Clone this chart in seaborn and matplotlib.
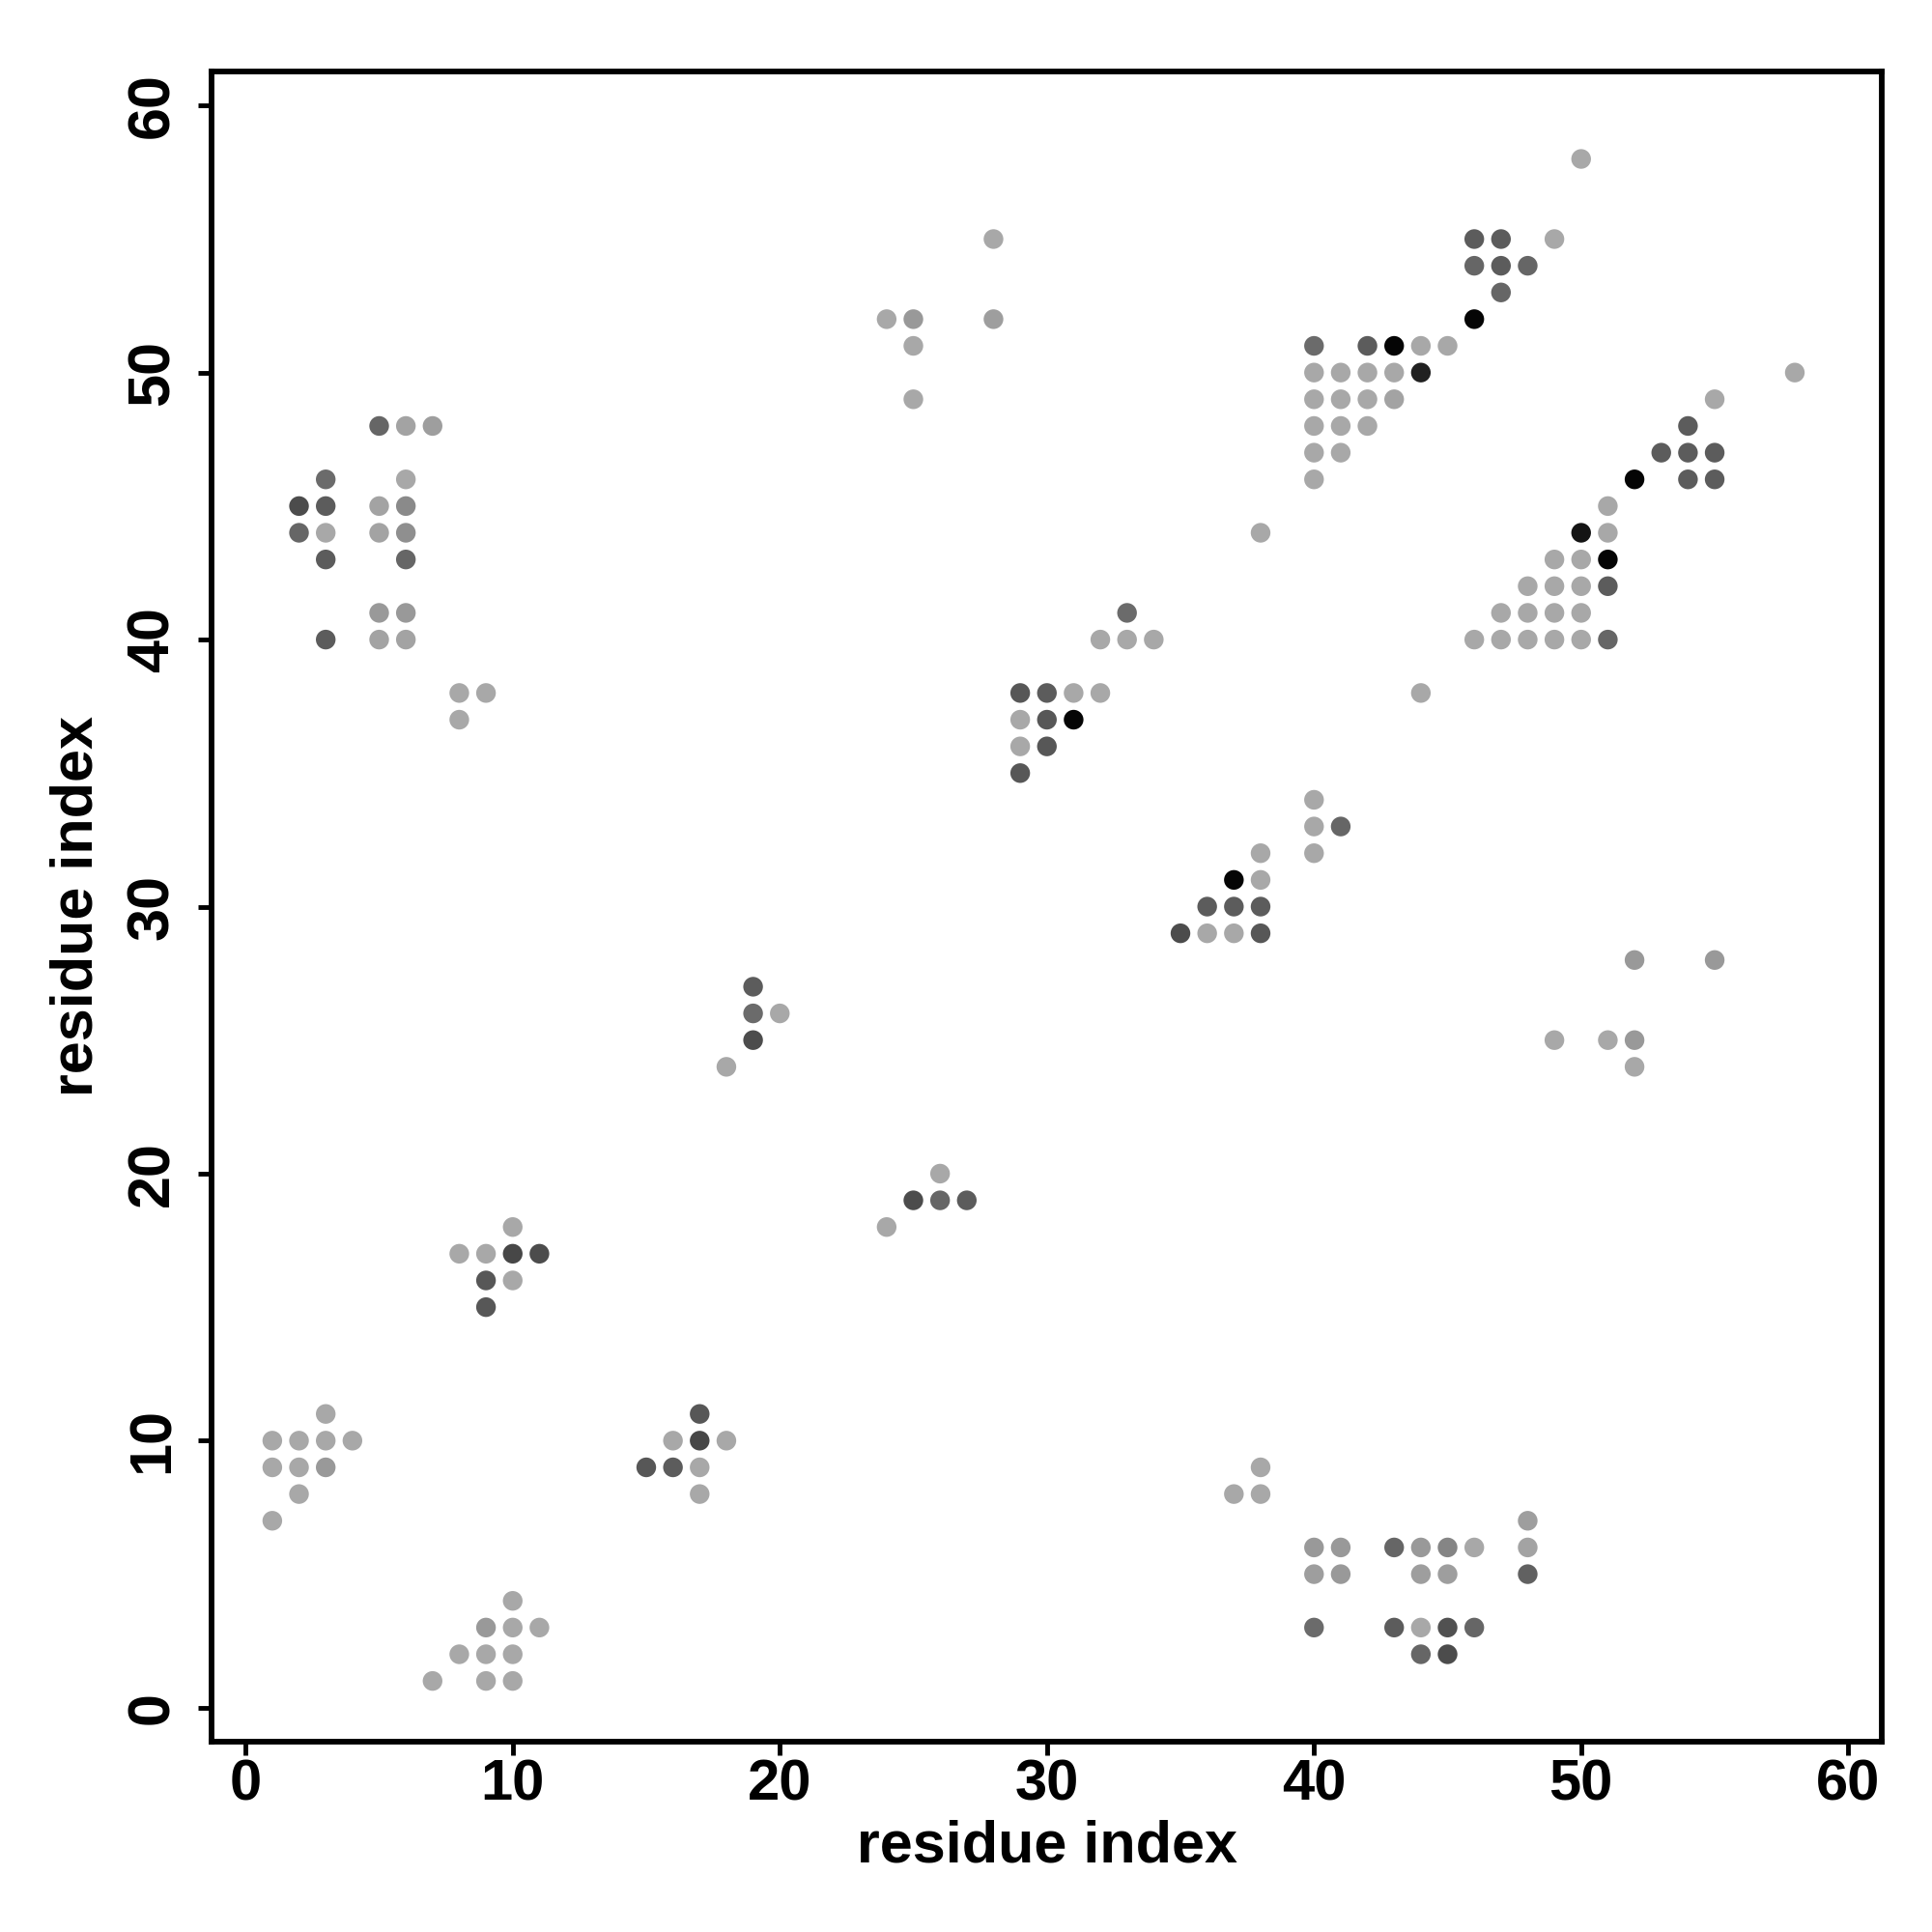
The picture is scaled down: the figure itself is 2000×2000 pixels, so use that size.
import matplotlib
matplotlib.use("Agg")
import matplotlib.pyplot as plt
import seaborn as sns
import pandas as pd

L = 0.66  # light grey level

# contact list: residue i, residue j, grey shade (0 = black, 1 = white)
res_x = [50,
         28, 46, 47, 49,
         46, 47, 48,
         47,
         24, 25, 28, 46,
         25, 40, 42, 43, 44, 45,
         40, 41, 42, 43, 44, 58,
         25, 40, 41, 42, 43, 55,
         5, 6, 7, 40, 41, 42, 54,
         40, 41, 53, 54, 55,
         3, 6, 40, 52, 54, 55,
         2, 3, 5, 6, 51,
         2, 3, 5, 6, 38, 50, 51,
         3, 6, 49, 50, 51,
         48, 49, 50, 51,
         5, 6, 33, 47, 48, 49, 50,
         3, 5, 6, 32, 33, 34, 46, 47, 48, 49, 50, 51,
         8, 9, 29, 30, 31, 32, 44,
         8, 29, 30, 31,
         29, 30,
         29,
         40,
         40, 41,
         38, 40,
         37, 38,
         36, 37, 38,
         35, 36, 37, 38,
         52, 55,
         19,
         19, 20,
         19, 49, 51, 52,
         18, 52,
         26,
         25, 26, 27,
         10, 24,
         8, 9, 10, 11,
         9, 10,
         9,
         3, 17,
         1, 2, 3, 4, 16, 17, 18,
         1, 2, 3, 15, 16, 17, 38,
         2, 17, 37, 38,
         1, 48,
         40, 41, 43, 44, 45, 46, 48,
         40, 41, 44, 45, 48,
         10,
         9, 10, 11, 40, 43, 44, 45, 46,
         8, 9, 10, 44, 45,
         7, 9, 10]

res_y = [58,
         55, 55, 55, 55,
         54, 54, 54,
         53,
         52, 52, 52, 52,
         51, 51, 51, 51, 51, 51,
         50, 50, 50, 50, 50, 50,
         49, 49, 49, 49, 49, 49,
         48, 48, 48, 48, 48, 48, 48,
         47, 47, 47, 47, 47,
         46, 46, 46, 46, 46, 46,
         45, 45, 45, 45, 45,
         44, 44, 44, 44, 44, 44, 44,
         43, 43, 43, 43, 43,
         42, 42, 42, 42,
         41, 41, 41, 41, 41, 41, 41,
         40, 40, 40, 40, 40, 40, 40, 40, 40, 40, 40, 40,
         38, 38, 38, 38, 38, 38, 38,
         37, 37, 37, 37,
         36, 36,
         35,
         34,
         33, 33,
         32, 32,
         31, 31,
         30, 30, 30,
         29, 29, 29, 29,
         28, 28,
         27,
         26, 26,
         25, 25, 25, 25,
         24, 24,
         20,
         19, 19, 19,
         18, 18,
         17, 17, 17, 17,
         16, 16,
         15,
         11, 11,
         10, 10, 10, 10, 10, 10, 10,
         9, 9, 9, 9, 9, 9, 9,
         8, 8, 8, 8,
         7, 7,
         6, 6, 6, 6, 6, 6, 6,
         5, 5, 5, 5, 5,
         4,
         3, 3, 3, 3, 3, 3, 3, 3,
         2, 2, 2, 2, 2,
         1, 1, 1]

shade = [L,
         L, 0.36, 0.36, L,
         0.40, 0.36, 0.40,
         0.40,
         L, 0.60, 0.62, 0.02,
         L, 0.42, 0.36, 0.02, L, L,
         L, L, L, L, 0.13, L,
         L, L, L, L, 0.64, L,
         0.40, 0.64, 0.62, L, L, L, 0.36,
         L, L, 0.36, 0.36, 0.36,
         0.42, L, L, 0.02, 0.36, 0.36,
         0.30, 0.36, 0.64, 0.54, L,
         0.40, L, 0.64, 0.56, L, 0.08, L,
         0.36, 0.40, L, L, 0.02,
         L, L, L, 0.36,
         0.60, 0.60, 0.42, L, L, L, L,
         0.36, 0.64, 0.64, L, L, L, L, L, L, L, L, 0.40,
         L, L, 0.34, 0.36, L, L, L,
         L, L, 0.34, 0.02,
         L, 0.34,
         0.34,
         L,
         L, 0.40,
         L, L,
         0.02, L,
         0.36, 0.36, 0.36,
         0.30, L, L, 0.34,
         0.60, 0.60,
         0.36,
         0.42, L,
         0.30, L, L, 0.60,
         L, L,
         L,
         0.30, 0.40, 0.36,
         L, L,
         L, L, 0.28, 0.30,
         0.34, L,
         0.34,
         L, 0.34,
         L, L, L, L, L, 0.28, L,
         L, L, 0.60, 0.34, 0.36, L, L,
         L, L, L, L,
         L, 0.62,
         0.60, 0.60, 0.40, 0.60, 0.52, L, 0.64,
         0.62, 0.60, 0.62, 0.62, 0.38,
         L,
         0.60, L, L, 0.42, 0.36, L, 0.32, 0.40,
         L, L, L, 0.40, 0.30,
         L, L, L]

x_ticks = [0, 10, 20, 30, 40, 50, 60]
y_ticks = [0, 10, 20, 30, 40, 50, 60]
x_label = "residue index"
y_label = "residue index"

df = pd.DataFrame({"i": res_x, "j": res_y, "shade": shade})

sns.set_style("ticks")
plt.rcParams["font.family"] = ["Liberation Sans", "DejaVu Sans"]
plt.rcParams["font.weight"] = "bold"
for key in ["text.color", "axes.labelcolor", "xtick.color", "ytick.color",
            "xtick.labelcolor", "ytick.labelcolor", "axes.edgecolor"]:
    plt.rcParams[key] = "black"

fig = plt.figure(figsize=(20, 20), dpi=100)
ax = fig.add_axes([0.1097, 0.0987, 0.8645, 0.8645])

sns.scatterplot(data=df, x="i", y="j", hue="shade", palette="gray",
                hue_norm=(0, 1), s=215, linewidth=0, legend=False, ax=ax)

ax.set_xlim(-1.26, 61.27)
ax.set_ylim(-1.26, 61.29)
ax.set_xticks(x_ticks)
ax.set_yticks(y_ticks)
ax.set_xticklabels([str(t) for t in x_ticks], fontsize=43, fontweight="bold",
                   color="black")
ax.set_yticklabels([str(t) for t in y_ticks], fontsize=44, fontweight="bold",
                   rotation=90, va="center", color="black")
ax.tick_params(axis="both", direction="out", length=10, width=3.5,
               color="black")
ax.tick_params(axis="x", pad=3)
ax.tick_params(axis="y", pad=13)
for sp in ax.spines.values():
    sp.set_visible(True)
    sp.set_linewidth(4.2)
    sp.set_color("black")

ax.set_xlabel(x_label, fontsize=44, fontweight="bold", labelpad=6,
              color="black")
ax.set_ylabel(y_label, fontsize=44, fontweight="bold", labelpad=16,
              color="black")

fig.savefig("out.png", dpi=100, facecolor="white")
